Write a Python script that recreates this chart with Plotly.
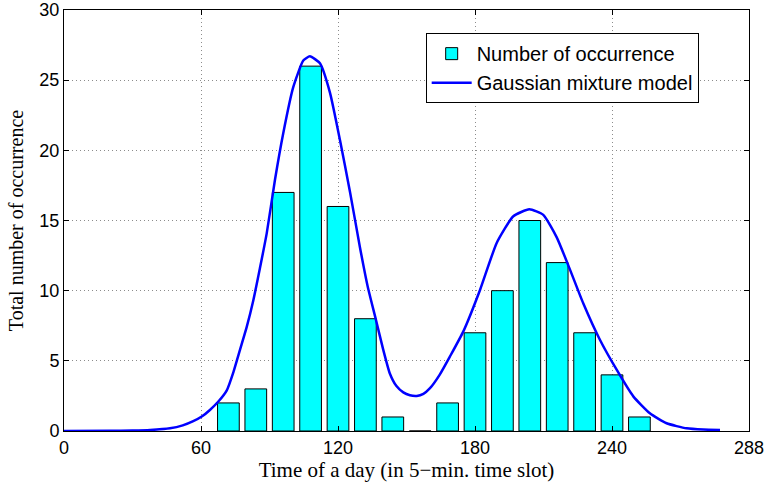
import plotly.graph_objects as go

# Histogram bins (centres, 5-min slots) and counts
bin_centers = [72, 84, 96, 108, 120, 132, 144, 156, 168, 180, 192, 204, 216, 228, 240, 252]
counts = [2, 3, 17, 26, 16, 8, 1, 0, 2, 7, 10, 15, 12, 7, 4, 1]

# Gaussian mixture model curve
gmm_x = [0, 20, 30, 37.7, 46.4, 52.0, 56.6, 60.5, 63.9, 67.6, 71.3, 74.2, 77.1, 80.0, 82.9,
         85.8, 88.8, 92.4, 96.0, 100.4, 104.8, 107.7, 112.1, 116.5, 120.9, 125.3, 129.6,
         133.0, 136.5, 139.8, 142.7, 145.6, 148.6, 151.5, 154.5, 157.4, 160.3, 164.5, 169.0,
         174.9, 182.2, 189.5, 196.8, 203.8, 209.9, 215.8, 221.6, 227.4, 234.7, 242.1, 249.4,
         256.6, 263.9, 272.7, 280, 287.3]
gmm_y = [0.0, 0.01, 0.03, 0.07, 0.19, 0.4, 0.7, 1.05, 1.5, 2.1, 2.9, 4.2, 5.8, 7.4, 9.3,
         11.6, 14.1, 17.9, 21.2, 24.5, 26.4, 26.7, 26.2, 24.1, 20.7, 17.0, 13.1,
         10.3, 8.0, 5.8, 4.1, 3.2, 2.75, 2.55, 2.5, 2.65, 3.05, 4.0, 5.3,
         7.1, 10.05, 13.4, 15.3, 15.8, 15.4, 13.8, 11.5, 9.1, 6.5, 4.35, 2.45,
         1.26, 0.55, 0.19, 0.1, 0.07]

x_tickvals = [0, 60, 120, 180, 240, 300]
x_ticktext = ["0", "60", "120", "180", "240", "288"]
y_tickvals = [0, 5, 10, 15, 20, 25, 30]

fig = go.Figure()
fig.add_trace(go.Bar(
    x=bin_centers, y=counts, name="Number of occurrence",
    marker=dict(color="#00FFFF", line=dict(color="#000000", width=1)),
    width=9.5,
))
fig.add_trace(go.Scatter(
    x=gmm_x, y=gmm_y, mode="lines", name="Gaussian mixture model",
    line=dict(color="#0000FF", width=2.5, shape="spline", smoothing=0.5),
))

sans = "Liberation Sans, Arial, sans-serif"
serif = "Liberation Serif, Times New Roman, serif"

axis_common = dict(
    showline=True, linecolor="black", linewidth=1, mirror="ticks",
    ticks="inside", ticklen=5, tickcolor="black",
    showgrid=True, gridcolor="#8c8c8c", griddash="1px,3px", gridwidth=1,
    zeroline=False, automargin=False,
    tickfont=dict(family=sans, size=18, color="black"),
)

fig.update_layout(
    width=770, height=482,
    margin=dict(l=64, r=21, t=10, b=51),
    paper_bgcolor="white", plot_bgcolor="white",
    bargap=0.2,
    showlegend=True,
    legend=dict(
        x=0.528, y=0.945, xanchor="left", yanchor="top",
        bgcolor="white", bordercolor="black", borderwidth=1,
        font=dict(family=sans, size=20, color="black"),
        tracegroupgap=0, itemwidth=40,
    ),
    xaxis=dict(
        range=[0, 300], tickvals=x_tickvals, ticktext=x_ticktext,
        title=dict(text="Time of a day (in 5\u2212min. time slot)",
                   font=dict(family=serif, size=21, color="black"),
                   standoff=0),
        **axis_common,
    ),
    yaxis=dict(
        range=[0, 30], tickvals=y_tickvals,
        title=dict(text="Total number of occurrence",
                   font=dict(family=serif, size=20, color="black"),
                   standoff=10),
        **axis_common,
    ),
)

fig.write_html(
    "out.html",
    config={"displayModeBar": False},
    post_script="document.body.style.margin='0';document.body.style.overflow='hidden';",
)
